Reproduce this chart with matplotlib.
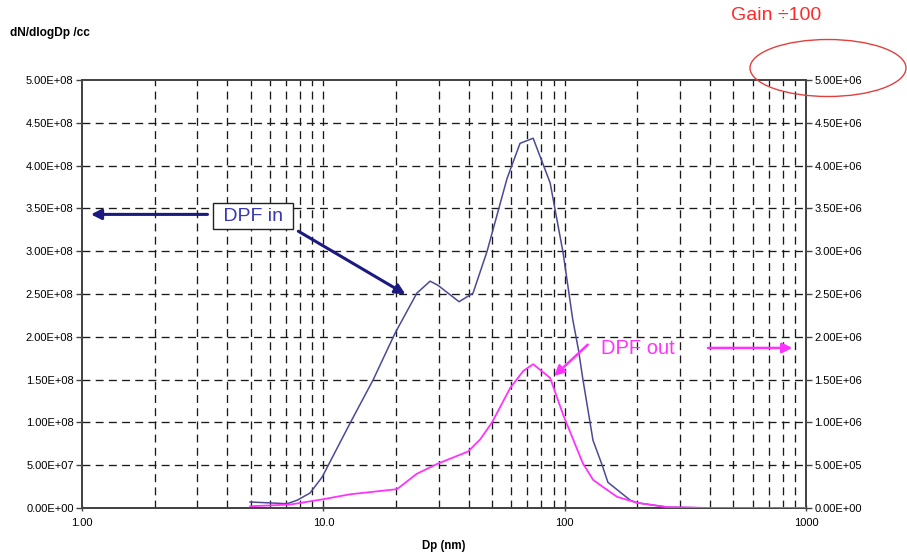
import matplotlib
matplotlib.use("Agg")
import matplotlib.pyplot as plt
from matplotlib.patches import Ellipse
from matplotlib.ticker import FixedLocator, FuncFormatter, NullFormatter
import numpy as np

plt.rcParams['font.family'] = ['Liberation Sans', 'DejaVu Sans']

# ---- data ----
dp_in = [4.97, 7.08, 7.78, 8.81, 9.88, 12.9, 16.1, 19.8, 24.4, 27.7, 29.9, 36.5, 41.7,
         47.7, 57.7, 65.3, 74.0, 87.0, 98.5, 108, 114, 119, 131, 143, 151, 187, 200,
         266, 400, 1000]
n_in = [0.07e8, 0.05e8, 0.09e8, 0.175e8, 0.36e8, 0.99e8, 1.50e8, 2.04e8, 2.51e8, 2.65e8,
        2.60e8, 2.41e8, 2.51e8, 3.00e8, 3.85e8, 4.26e8, 4.32e8, 3.80e8, 2.98e8, 2.20e8,
        1.85e8, 1.50e8, 0.79e8, 0.50e8, 0.30e8, 0.09e8, 0.06e8, 0.01e8, 0.0, 0.0]

dp_out = [4.97, 7.28, 9.88, 12.9, 20.2, 24.4, 29.9, 39.8, 44.6, 50.0, 59.4, 67.3, 74.0,
          87.0, 98.5, 119, 131, 140, 165, 200, 266, 400, 1000]
n_out = [0.02e6, 0.04e6, 0.10e6, 0.16e6, 0.22e6, 0.40e6, 0.52e6, 0.66e6, 0.80e6, 1.00e6,
         1.40e6, 1.60e6, 1.68e6, 1.52e6, 1.09e6, 0.52e6, 0.33e6, 0.27e6, 0.13e6, 0.06e6,
         0.01e6, 0.0, 0.0]

left_ticks = [0, 0.5e8, 1.0e8, 1.5e8, 2.0e8, 2.5e8, 3.0e8, 3.5e8, 4.0e8, 4.5e8, 5.0e8]
right_ticks = [0, 0.5e6, 1.0e6, 1.5e6, 2.0e6, 2.5e6, 3.0e6, 3.5e6, 4.0e6, 4.5e6, 5.0e6]
x_major = [1, 10, 100, 1000]
x_major_labels = ["1.00", "10.0", "100", "1000"]

fig = plt.figure(figsize=(9.07, 5.53), dpi=100)
ax = fig.add_axes([0.0904, 0.0814, 0.7983, 0.7739])
ax2 = ax.twinx()

ax.set_xscale('log')
ax.set_xlim(1, 1000)
ax.set_ylim(0, 5e8)
ax2.set_ylim(0, 5e6)

# grid: vertical at every integer step in each decade, horizontal at each tick
minor_pos = [m * 10 ** d for d in range(0, 3) for m in range(2, 10)]
dash = (0, (6, 4))
for xv in minor_pos + [10, 100]:
    ax.axvline(xv, color='#1a1a1a', lw=0.95, ls=dash, zorder=1)
for yv in left_ticks[1:-1]:
    ax.axhline(yv, color='#1a1a1a', lw=0.95, ls=dash, zorder=1)

ax.plot(dp_in, n_in, color='#4a4a96', lw=1.1, zorder=3)
ax2.plot(dp_out, n_out, color='#ff33ff', lw=1.3, zorder=3)

# axes formatting
ax.yaxis.set_major_locator(FixedLocator(left_ticks))
ax.yaxis.set_major_formatter(FuncFormatter(lambda v, p: f"{v:.2E}"))
ax2.yaxis.set_major_locator(FixedLocator(right_ticks))
ax2.yaxis.set_major_formatter(FuncFormatter(lambda v, p: f"{v:.2E}"))
ax.xaxis.set_major_locator(FixedLocator(x_major))
ax.xaxis.set_major_formatter(FuncFormatter(lambda v, p: x_major_labels[x_major.index(round(v))] if round(v) in x_major else ""))
ax.xaxis.set_minor_locator(FixedLocator(minor_pos))
ax.xaxis.set_minor_formatter(NullFormatter())

for a in (ax, ax2):
    for s in a.spines.values():
        s.set_color('#444444')
        s.set_linewidth(1.3)
ax.tick_params(axis='y', labelsize=8, length=4, width=1, color='#444444', pad=2)
ax2.tick_params(axis='y', labelsize=8, length=4, width=1, color='#444444', pad=2)
ax.tick_params(axis='x', which='major', labelsize=8, length=4, width=1, direction='inout', pad=5, color='#444444')
ax.tick_params(axis='x', which='minor', length=0)

ax.set_xlabel("Dp (nm)", fontsize=8.3, fontweight='bold', labelpad=9)
fig.text(10 / 907, 1 - 33 / 553, "dN/dlogDp /cc", fontsize=8.6, fontweight='bold', va='center', ha='left')
fig.text(776 / 907, 1 - 16 / 553, "Gain \u00f7100", fontsize=14, color='#ff2a2a', va='center', ha='center')

ell = Ellipse((828 / 907, 1 - 68 / 553), 156 / 907, 57 / 553, transform=fig.transFigure,
              fill=False, edgecolor='#e04040', lw=1.0)
fig.add_artist(ell)

# annotations
ax.text(5.11, 3.41e8, " DPF in ", fontsize=14, color='#3838b0', ha='center', va='center', zorder=6,
        bbox=dict(boxstyle='square,pad=0.25', fc='white', ec='#222222', lw=1.0))
ax.annotate("", xy=(1.06, 3.43e8), xytext=(3.4, 3.43e8),
            arrowprops=dict(arrowstyle='-|>,head_length=0.6,head_width=0.3', color='#1a1a80', lw=2.2), zorder=5)
ax.annotate("", xy=(22.4, 2.48e8), xytext=(7.7, 3.25e8),
            arrowprops=dict(arrowstyle='-|>,head_length=0.6,head_width=0.3', color='#1a1a80', lw=2.2), zorder=5)

ax.text(201, 1.86e8, "DPF out", fontsize=14.5, color='#ff33ff', ha='center', va='center', zorder=6)
ax.annotate("", xy=(901, 1.87e8), xytext=(382, 1.87e8),
            arrowprops=dict(arrowstyle='-|>,head_length=0.6,head_width=0.3', color='#ff33ff', lw=1.8), zorder=5)
ax.annotate("", xy=(88.7, 1.52e8), xytext=(127, 1.93e8),
            arrowprops=dict(arrowstyle='-|>,head_length=0.6,head_width=0.3', color='#ff33ff', lw=1.8), zorder=5)

fig.savefig("out.png", dpi=100)
